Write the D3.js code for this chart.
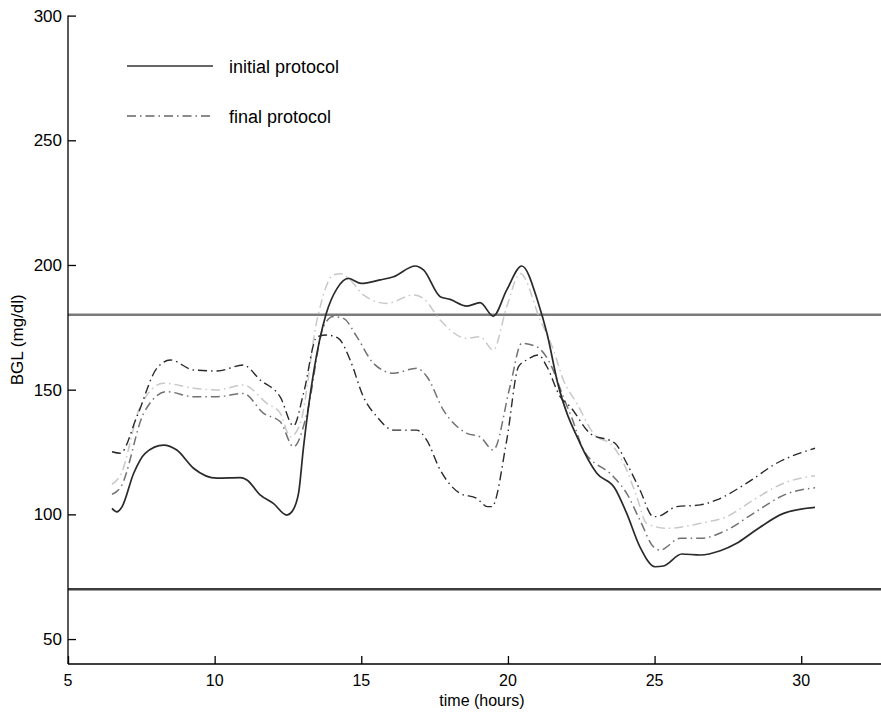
<!DOCTYPE html>
<html>
<head>
<meta charset="utf-8">
<script src="https://cdn.jsdelivr.net/npm/d3@7"></script>
<style>
  body { margin: 0; background: #fff; }
  text { font-family: "Liberation Sans", Arial, sans-serif; fill: #000; }
</style>
</head>
<body>
<script>
// initial protocol (solid)
const initialT = [6.5,6.67,6.84,7.24,7.63,8.26,8.71,9.28,10.08,10.87,11.1,11.55,12.0,12.46,12.63,12.86,13.03,13.37,13.8,14.17,14.56,15.0,15.64,16.1,16.84,17.12,17.69,18.03,18.6,19.05,19.5,19.96,20.47,21.04,21.33,21.7,22.46,23.03,23.65,24.05,24.5,25.02,25.3,25.93,26.56,27.24,27.8,28.37,29.4,30.47];
const initialV = [102.4,101,103,116.5,124.5,127.8,125.8,118.5,114.5,114.7,113.8,107.8,104.4,99.7,101,108.4,127,156.6,180.3,190.5,194.6,192.6,194,195.3,199.6,198,187.3,186.2,183.5,184.9,179.5,190,199.6,184.6,172.6,152.5,128.5,116.5,110.4,100.4,87,79,79.3,84.1,83.7,85.4,88.4,93,100.4,102.8];

// final protocol runs (dash-dot)
const finalDarkT = [6.5,6.78,7.35,8.03,8.49,9.28,10.08,10.98,11.55,12.24,12.69,13.03,13.49,13.83,14.22,14.62,15.07,15.53,16.1,16.89,17.23,17.69,18.37,18.94,19.3,19.45,19.96,20.36,20.64,21.04,21.33,21.78,22.12,22.8,23.65,24.05,24.5,24.96,25.07,25.76,26.56,27.12,28.14,29.16,30.47];
const finalDarkV = [125.1,124.5,139.2,158.6,161.9,157.9,157.5,159.9,153.9,147,135.5,148.5,171.2,171.9,170.6,161.9,147.2,139.2,133.8,133.8,129.8,117.8,108.4,106.4,103.1,103.1,129.8,159.2,161.9,163.9,159.2,147.2,143.2,132.5,128.5,120.5,109.8,99.1,99.1,103.1,103.8,105.8,112.5,120.5,126.5];

const finalLightT = [6.5,6.8,7.46,8.26,9.28,10.08,10.98,11.78,12.24,12.58,12.92,13.49,14.05,14.3,14.62,15.07,15.87,16.78,17.12,17.69,18.6,19.05,19.5,19.96,20.42,21.1,21.55,21.89,22.35,22.91,23.6,24.05,24.39,24.73,25.42,26.56,27.46,28.37,29.4,30.47];
const finalLightV = [112,116,143.2,152.6,150.6,149.9,151.9,144.5,140.5,131.1,136.5,177.9,196,196.5,194,188,184.6,188,186.6,177.9,170.6,171.2,165.9,183.3,196.6,178,166,153.9,144.5,132.5,127.1,117.8,107.1,96.4,94.4,96.4,99.1,105.8,112.5,115.5];

const finalMidT = [6.5,6.8,7.58,8.37,9.28,10.08,10.98,11.67,12.24,12.69,13.15,13.71,14.05,14.39,14.85,15.42,16.1,16.89,17.24,17.8,18.6,19.05,19.5,20.07,20.47,20.98,21.44,21.89,22.2,22.57,23.6,24.05,24.5,24.96,25.19,25.87,26.56,27.46,28.37,29.5,30.47];
const finalMidV = [108,111,140.5,149.2,147.2,147.2,148.5,140.5,137.1,127.1,140.5,175.3,179.3,178.6,171.2,160.5,156.6,158.6,155.2,141.8,132.5,131.1,125.8,151.2,168.6,167.2,160.5,147,138,126,115.1,108.4,97.7,87,85.7,90.4,90.4,93.7,100.4,108.2,110.7];

const xTicks = [5, 10, 15, 20, 25, 30];
const yTicks = [50, 100, 150, 200, 250, 300];
const limits = [180, 70];
const legendLabels = ["initial protocol", "final protocol"];

const W = 881, H = 714;
const svg = d3.select("body").append("svg")
    .attr("width", W)
    .attr("height", H);

const x = d3.scaleLinear().domain([5, 32.72]).range([68, 881]);
const y = d3.scaleLinear().domain([40, 300]).range([664, 15.6]);

// limit lines
svg.append("line")
    .attr("x1", x(5)).attr("x2", W)
    .attr("y1", y(limits[0])).attr("y2", y(limits[0]))
    .attr("stroke", "#7a7a7a").attr("stroke-width", 2.5);
svg.append("line")
    .attr("x1", x(5)).attr("x2", W)
    .attr("y1", y(limits[1])).attr("y2", y(limits[1]))
    .attr("stroke", "#3c3c3c").attr("stroke-width", 2.5);

const line = d3.line()
    .x(d => x(d[0]))
    .y(d => y(d[1]))
    .curve(d3.curveMonotoneX);

const dashDot = "9,4,1.5,4";
const series = [
  {t: finalLightT, v: finalLightV, color: "#c8c8c8", dash: dashDot, w: 1.5},
  {t: finalMidT, v: finalMidV, color: "#727272", dash: dashDot, w: 1.5},
  {t: finalDarkT, v: finalDarkV, color: "#2a2a2a", dash: dashDot, w: 1.4},
  {t: initialT, v: initialV, color: "#2a2a2a", dash: null, w: 1.7}
];

series.forEach(s => {
  svg.append("path")
      .datum(s.t.map((t, i) => [t, s.v[i]]))
      .attr("fill", "none")
      .attr("stroke", s.color)
      .attr("stroke-width", s.w)
      .attr("stroke-dasharray", s.dash)
      .attr("d", line);
});

// axes, ticks point inward
const xAxis = svg.append("g")
    .attr("transform", "translate(0," + y(40) + ")")
    .call(d3.axisTop(x).tickValues(xTicks).tickSize(8).tickFormat(""));
xAxis.select(".domain").attr("d", "M" + x(5) + ",0H" + W);
xAxis.selectAll("path, line").attr("stroke", "#000").attr("stroke-width", 1.3);

svg.selectAll(".xlab")
    .data(xTicks)
  .enter().append("text")
    .attr("x", d => x(d))
    .attr("y", 686)
    .attr("text-anchor", "middle")
    .style("font-size", "16px")
    .text(d => d);

const yAxis = svg.append("g")
    .attr("transform", "translate(" + x(5) + ",0)")
    .call(d3.axisRight(y).tickValues(yTicks).tickSize(8).tickFormat(""));
yAxis.select(".domain").attr("d", "M0," + y(300) + "V" + y(40));
yAxis.selectAll("path, line").attr("stroke", "#000").attr("stroke-width", 1.3);

svg.selectAll(".ylab")
    .data(yTicks)
  .enter().append("text")
    .attr("x", 62)
    .attr("y", d => y(d))
    .attr("dy", "0.36em")
    .attr("text-anchor", "end")
    .style("font-size", "17px")
    .text(d => d);

svg.append("text")
    .attr("x", 482)
    .attr("y", 706)
    .attr("text-anchor", "middle")
    .style("font-size", "16px")
    .text("time (hours)");

svg.append("text")
    .attr("transform", "translate(23," + (y(300) + y(40)) / 2 + ") rotate(-90)")
    .attr("text-anchor", "middle")
    .style("font-size", "17px")
    .text("BGL (mg/dl)");

// legend
const legend = svg.append("g");
legend.append("line")
    .attr("x1", 127).attr("x2", 213).attr("y1", 66).attr("y2", 66)
    .attr("stroke", "#333").attr("stroke-width", 1.5);
legend.append("line")
    .attr("x1", 127).attr("x2", 213).attr("y1", 116).attr("y2", 116)
    .attr("stroke", "#666").attr("stroke-width", 1.5)
    .attr("stroke-dasharray", dashDot);
legend.selectAll("text")
    .data(legendLabels)
  .enter().append("text")
    .attr("x", 229)
    .attr("y", (d, i) => 73 + i * 50)
    .style("font-size", "18px")
    .text(d => d);
</script>
</body>
</html>
